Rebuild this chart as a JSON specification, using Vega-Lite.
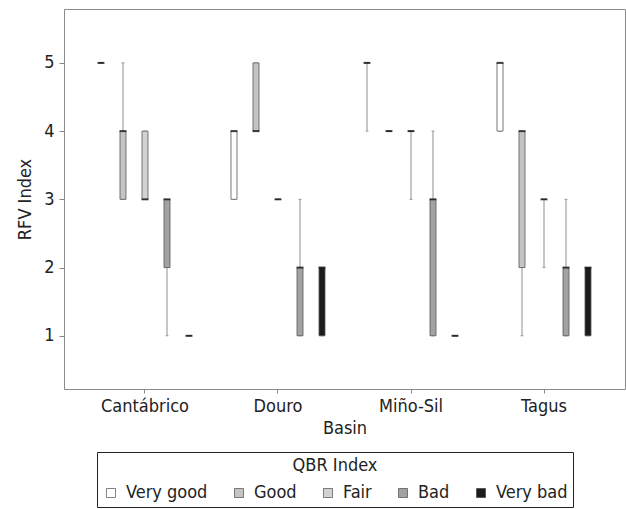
{
  "$schema": "https://vega.github.io/schema/vega-lite/v6.json",
  "width": 561,
  "height": 380,
  "autosize": {"type": "none"},
  "padding": {"left": 64, "top": 9, "right": 1, "bottom": 120},
  "background": "white",
  "config": {
    "font": "DejaVu Sans Condensed, Liberation Sans",
    "view": {"stroke": "#8a8a8a", "strokeWidth": 1},
    "axis": {"labelFont": "DejaVu Sans Condensed, Liberation Sans", "titleFont": "DejaVu Sans Condensed, Liberation Sans", "labelColor": "#222", "titleColor": "#222", "titleFontWeight": "normal"}
  },
  "data": {
    "values": [
      {"Basin": "Cantábrico", "QBR": "Very good", "lower": 5, "q1": 5, "median": 5, "q3": 5, "upper": 5},
      {"Basin": "Cantábrico", "QBR": "Good", "lower": 3, "q1": 3, "median": 4, "q3": 4, "upper": 5},
      {"Basin": "Cantábrico", "QBR": "Fair", "lower": 3, "q1": 3, "median": 3, "q3": 4, "upper": 4},
      {"Basin": "Cantábrico", "QBR": "Bad", "lower": 1, "q1": 2, "median": 3, "q3": 3, "upper": 3},
      {"Basin": "Cantábrico", "QBR": "Very bad", "lower": 1, "q1": 1, "median": 1, "q3": 1, "upper": 1},
      {"Basin": "Douro", "QBR": "Very good", "lower": 3, "q1": 3, "median": 4, "q3": 4, "upper": 4},
      {"Basin": "Douro", "QBR": "Good", "lower": 4, "q1": 4, "median": 4, "q3": 5, "upper": 5},
      {"Basin": "Douro", "QBR": "Fair", "lower": 3, "q1": 3, "median": 3, "q3": 3, "upper": 3},
      {"Basin": "Douro", "QBR": "Bad", "lower": 1, "q1": 1, "median": 2, "q3": 2, "upper": 3},
      {"Basin": "Douro", "QBR": "Very bad", "lower": 1, "q1": 1, "median": 2, "q3": 2, "upper": 2},
      {"Basin": "Miño-Sil", "QBR": "Very good", "lower": 4, "q1": 5, "median": 5, "q3": 5, "upper": 5},
      {"Basin": "Miño-Sil", "QBR": "Good", "lower": 4, "q1": 4, "median": 4, "q3": 4, "upper": 4},
      {"Basin": "Miño-Sil", "QBR": "Fair", "lower": 3, "q1": 4, "median": 4, "q3": 4, "upper": 4},
      {"Basin": "Miño-Sil", "QBR": "Bad", "lower": 1, "q1": 1, "median": 3, "q3": 3, "upper": 4},
      {"Basin": "Miño-Sil", "QBR": "Very bad", "lower": 1, "q1": 1, "median": 1, "q3": 1, "upper": 1},
      {"Basin": "Tagus", "QBR": "Very good", "lower": 4, "q1": 4, "median": 5, "q3": 5, "upper": 5},
      {"Basin": "Tagus", "QBR": "Good", "lower": 1, "q1": 2, "median": 4, "q3": 4, "upper": 4},
      {"Basin": "Tagus", "QBR": "Fair", "lower": 2, "q1": 3, "median": 3, "q3": 3, "upper": 3},
      {"Basin": "Tagus", "QBR": "Bad", "lower": 1, "q1": 1, "median": 2, "q3": 2, "upper": 3},
      {"Basin": "Tagus", "QBR": "Very bad", "lower": 1, "q1": 1, "median": 2, "q3": 2, "upper": 2}
    ]
  },
  "encoding": {
    "x": {
      "field": "Basin", "type": "nominal",
      "sort": ["Cantábrico", "Douro", "Miño-Sil", "Tagus"],
      "scale": {"paddingInner": 0, "paddingOuter": 0.109},
      "axis": {"labelAngle": 0, "labelFontSize": 18, "titleFontSize": 18, "tickSize": 4, "tickColor": "#888", "domain": false, "labelPadding": 4, "titlePadding": 4, "title": "Basin"}
    },
    "xOffset": {
      "field": "QBR", "type": "nominal",
      "sort": ["Very good", "Good", "Fair", "Bad", "Very bad"],
      "scale": {"paddingInner": 0.727, "paddingOuter": 0.886}
    }
  },
  "layer": [
    {
      "mark": {"type": "rule", "color": "#8f8f8f", "strokeWidth": 1},
      "encoding": {
        "y": {"field": "lower", "type": "quantitative", "scale": {"domain": [0.22, 5.79], "nice": false, "zero": false},
          "axis": {"values": [1, 2, 3, 4, 5], "format": "d", "grid": false, "domain": false, "tickSize": 5, "tickColor": "#888", "labelFontSize": 18, "titleFontSize": 18, "title": "RFV Index", "labelPadding": 5, "titlePadding": 9}},
        "y2": {"field": "upper"}
      }
    },
    {
      "mark": {"type": "tick", "color": "#777", "thickness": 1, "size": 3},
      "encoding": {"y": {"field": "lower", "type": "quantitative"}}
    },
    {
      "mark": {"type": "tick", "color": "#777", "thickness": 1, "size": 3},
      "encoding": {"y": {"field": "upper", "type": "quantitative"}}
    },
    {
      "mark": {"type": "bar", "stroke": "#555", "strokeWidth": 0.8},
      "encoding": {
        "y": {"field": "q1", "type": "quantitative"},
        "y2": {"field": "q3"},
        "fill": {
          "field": "QBR", "type": "nominal",
          "sort": ["Very good", "Good", "Fair", "Bad", "Very bad"],
          "scale": {"domain": ["Very good", "Good", "Fair", "Bad", "Very bad"], "range": ["#ffffff", "#c4c4c4", "#d2d2d2", "#a2a2a2", "#1c1c1c"]},
          "legend": {
            "title": "QBR Index", "orient": "none", "legendX": 33, "legendY": 443,
            "direction": "horizontal", "titleAnchor": "middle", "titleFontSize": 18, "titleFontWeight": "normal",
            "titleFont": "DejaVu Sans Condensed, Liberation Sans",
            "labelFont": "DejaVu Sans Condensed, Liberation Sans",
            "labelFontSize": 18, "labelColor": "#222", "titleColor": "#222",
            "symbolType": "square", "symbolSize": 81, "symbolStrokeColor": "#333", "symbolStrokeWidth": 0.6,
            "labelOffset": 6, "columnPadding": 22, "padding": 5, "strokeColor": "#222", "titlePadding": 9
          }
        }
      }
    },
    {
      "mark": {"type": "tick", "color": "#111", "thickness": 2, "size": 7},
      "encoding": {"y": {"field": "median", "type": "quantitative"}}
    }
  ]
}
